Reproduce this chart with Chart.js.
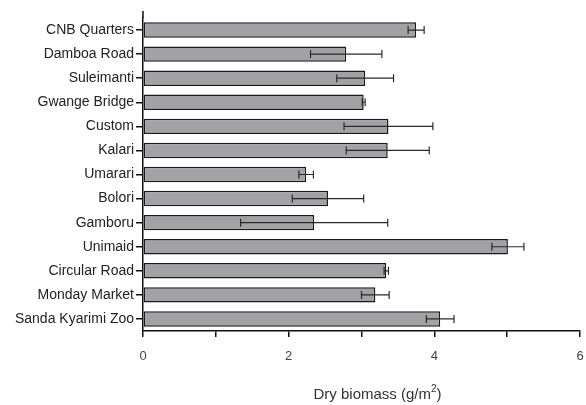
<!DOCTYPE html>
<html>
<head>
<meta charset="utf-8">
<script src="https://cdn.jsdelivr.net/npm/chart.js@4/dist/chart.umd.min.js"></script>
<style>
  html, body { margin: 0; padding: 0; background: #fff; }
  #wrap { width: 586px; height: 405px; position: relative; }
</style>
</head>
<body>
<div id="wrap"><canvas id="biomassChart"></canvas></div>
<script>
(function () {
  'use strict';

  const SITES = [
    'CNB Quarters', 'Damboa Road', 'Suleimanti', 'Gwange Bridge', 'Custom',
    'Kalari', 'Umarari', 'Bolori', 'Gamboru', 'Unimaid',
    'Circular Road', 'Monday Market', 'Sanda Kyarimi Zoo'
  ];
  const MEANS = [3.75, 2.79, 3.05, 3.03, 3.37, 3.36, 2.24, 2.54, 2.35, 5.01, 3.34, 3.19, 4.08];
  const ERRORS = [0.11, 0.49, 0.39, 0.02, 0.61, 0.57, 0.10, 0.49, 1.01, 0.22, 0.03, 0.19, 0.19];
  const X_LABELS = [0, 2, 4, 6];
  const AXIS_TITLE = 'Dry biomass (g/m';
  const AXIS_SUP = '2';

  const FONT = '"Liberation Sans", Arial, sans-serif';

  // error bars drawn from the same scale as the bars
  const errorBars = {
    id: 'errorBars',
    afterDatasetsDraw(chart) {
      const ctx = chart.ctx;
      const xs = chart.scales.x;
      const meta = chart.getDatasetMeta(0);
      ctx.save();
      ctx.strokeStyle = '#2a2a2a';
      ctx.lineWidth = 1.2;
      meta.data.forEach((bar, i) => {
        const lo = xs.getPixelForValue(MEANS[i] - ERRORS[i]);
        const hi = xs.getPixelForValue(MEANS[i] + ERRORS[i]);
        const y = bar.y;
        ctx.beginPath();
        ctx.moveTo(lo, y); ctx.lineTo(hi, y);
        ctx.moveTo(lo, y - 4); ctx.lineTo(lo, y + 4);
        ctx.moveTo(hi, y - 4); ctx.lineTo(hi, y + 4);
        ctx.stroke();
      });
      ctx.restore();
    }
  };

  // axis title with a real superscript, plus the y axis stub above the plot
  const axisTitle = {
    id: 'axisTitle',
    afterDraw(chart) {
      const ctx = chart.ctx;
      const area = chart.chartArea;
      ctx.save();
      ctx.strokeStyle = '#111';
      ctx.lineWidth = 1.5;
      ctx.beginPath();
      ctx.moveTo(area.left, area.top - 7);
      ctx.lineTo(area.left, area.top);
      ctx.stroke();

      ctx.fillStyle = '#333';
      ctx.textBaseline = 'alphabetic';
      ctx.font = '15px ' + FONT;
      const w1 = ctx.measureText(AXIS_TITLE).width;
      ctx.font = '10px ' + FONT;
      const w2 = ctx.measureText(AXIS_SUP).width;
      ctx.font = '15px ' + FONT;
      const w3 = ctx.measureText(')').width;
      const cx = (area.left + area.right) / 2 + 16;
      let x = cx - (w1 + w2 + w3) / 2;
      const y = 399;
      ctx.fillText(AXIS_TITLE, x, y);
      x += w1;
      ctx.font = '10px ' + FONT;
      ctx.fillText(AXIS_SUP, x, y - 7);
      x += w2;
      ctx.font = '15px ' + FONT;
      ctx.fillText(')', x, y);
      ctx.restore();
    }
  };

  new Chart(document.getElementById('biomassChart').getContext('2d'), {
    type: 'bar',
    data: {
      labels: SITES,
      datasets: [{
        data: MEANS,
        backgroundColor: '#a2a1a6',
        borderColor: '#1a1a1a',
        borderWidth: 1.5,
        borderSkipped: false,
        barPercentage: 0.64,
        categoryPercentage: 1
      }]
    },
    options: {
      indexAxis: 'y',
      responsive: true,
      maintainAspectRatio: false,
      animation: false,
      layout: { padding: { top: 18, right: 0, bottom: 0, left: 0 } },
      scales: {
        x: {
          min: 0,
          max: 6,
          afterFit: (s) => {
            s.height = 74;
            s.paddingRight = 6;
            s.paddingLeft = 0;
          },
          border: { display: true, color: '#111', width: 1.5 },
          grid: {
            display: true,
            drawOnChartArea: false,
            drawTicks: true,
            tickLength: 6,
            color: '#111',
            lineWidth: 1.5
          },
          ticks: {
            stepSize: 1,
            maxRotation: 0,
            color: '#444',
            padding: 12,
            font: { family: FONT, size: 13 },
            callback: (v) => (X_LABELS.includes(v) ? String(v) : '')
          }
        },
        y: {
          afterFit: (s) => { s.width = 143; },
          border: { display: true, color: '#111', width: 1.5 },
          grid: {
            display: true,
            offset: false,
            drawOnChartArea: false,
            drawTicks: true,
            tickLength: 7,
            color: '#111',
            lineWidth: 1.5
          },
          ticks: {
            color: '#222',
            padding: 2,
            autoSkip: false,
            font: { family: FONT, size: 14 }
          }
        }
      },
      plugins: {
        legend: { display: false },
        tooltip: { enabled: false }
      }
    },
    plugins: [errorBars, axisTitle]
  });
})();
</script>
</body>
</html>
